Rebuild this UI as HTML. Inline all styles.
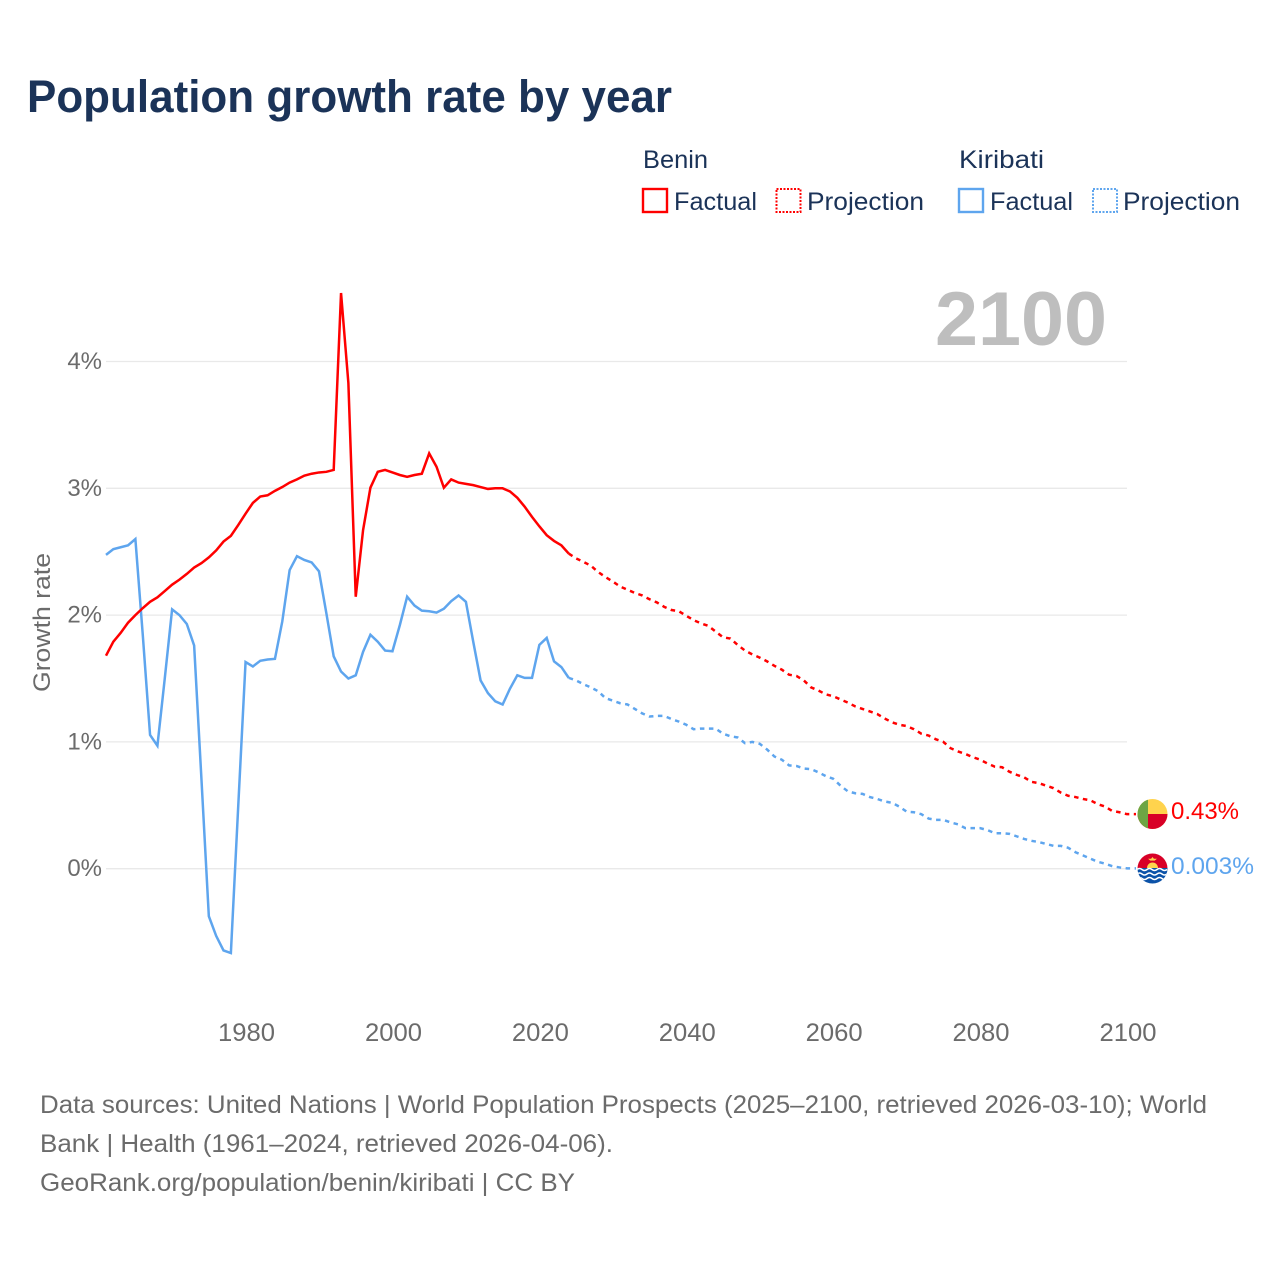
<!DOCTYPE html>
<html lang="en">
<head>
<meta charset="utf-8">
<title>Population growth rate by year</title>
<style>
html,body{margin:0;padding:0;background:#fff;}
svg{display:block;font-family:"Liberation Sans",sans-serif;}
</style>
</head>
<body>
<svg id="chart" xmlns="http://www.w3.org/2000/svg" width="1280" height="1280" viewBox="0 0 1280 1280">
  <defs>
    <clipPath id="flag-clip-a"><circle cx="1152.5" cy="814" r="15"/></clipPath>
    <clipPath id="flag-clip-b"><circle cx="1152.5" cy="868.5" r="15"/></clipPath>
  </defs>
  <rect width="1280" height="1280" fill="#fff"/>
  <text x="27" y="112" font-size="45" font-weight="700" fill="#1b3358" textLength="645" lengthAdjust="spacingAndGlyphs">Population growth rate by year</text>

  <g font-size="25" fill="#1b3358">
    <text x="643" y="168" textLength="65" lengthAdjust="spacingAndGlyphs">Benin</text>
    <text x="959" y="168" textLength="85" lengthAdjust="spacingAndGlyphs">Kiribati</text>
    <g>
      <rect x="643" y="189" width="24" height="23" fill="none" stroke="#ff0000" stroke-width="2.4"/>
      <text x="674" y="210" textLength="83" lengthAdjust="spacingAndGlyphs">Factual</text>
    </g>
    <g>
      <rect x="776.5" y="189" width="24" height="23" fill="none" stroke="#ff0000" stroke-width="2" stroke-dasharray="2 1.5"/>
      <text x="807" y="210" textLength="117" lengthAdjust="spacingAndGlyphs">Projection</text>
    </g>
    <g>
      <rect x="959" y="189" width="24" height="23" fill="none" stroke="#5ea5ee" stroke-width="2.4"/>
      <text x="990" y="210" textLength="83" lengthAdjust="spacingAndGlyphs">Factual</text>
    </g>
    <g>
      <rect x="1093" y="189" width="24" height="23" fill="none" stroke="#5ea5ee" stroke-width="2" stroke-dasharray="2 1.5"/>
      <text x="1123" y="210" textLength="117" lengthAdjust="spacingAndGlyphs">Projection</text>
    </g>
  </g>

  <text x="935" y="345" font-size="76" font-weight="700" fill="#bebebe" textLength="172" lengthAdjust="spacingAndGlyphs">2100</text>

  <g id="grid"></g>
  <g id="y-ticks" font-size="24" fill="#6b6b6b" text-anchor="end"></g>
  <g id="x-ticks" font-size="25" fill="#6b6b6b" text-anchor="middle"></g>
  <text transform="translate(50,692) rotate(-90)" font-size="24" fill="#6b6b6b" textLength="139" lengthAdjust="spacingAndGlyphs">Growth rate</text>

  <g id="series"></g>

  <g clip-path="url(#flag-clip-a)">
    <rect x="1137" y="799" width="31" height="31" fill="#ffd34d"/>
    <rect x="1137" y="814" width="31" height="16" fill="#d80027"/>
    <rect x="1137" y="799" width="11" height="31" fill="#6da544"/>
  </g>
  <g clip-path="url(#flag-clip-b)">
    <rect x="1137" y="853" width="31" height="16" fill="#d80027"/>
    <path d="M1147 868 a5.5 5.5 0 0 1 11 0 z" fill="#ffd34d"/>
    <path d="M1152.5 857 l1.4 1.8 h3 l-2.2 1.8 h-4.4 l-2.2 -1.8 h3 z" fill="#ffd34d"/>
    <rect x="1137" y="868" width="31" height="16" fill="#0b52a8"/>
    <path d="M1137 869.5 q2.5 -2 5 0 t5 0 t5 0 t5 0 t5 0 t5 0" fill="none" stroke="#fff" stroke-width="1.5"/>
    <path d="M1137 874 q2.5 -2 5 0 t5 0 t5 0 t5 0 t5 0 t5 0" fill="none" stroke="#fff" stroke-width="1.5"/>
    <path d="M1137 878.5 q2.5 -2 5 0 t5 0 t5 0 t5 0 t5 0 t5 0" fill="none" stroke="#fff" stroke-width="1.5"/>
  </g>

  <text x="1171" y="819" font-size="24" fill="#ff0000" textLength="68" lengthAdjust="spacingAndGlyphs">0.43%</text>
  <text x="1171" y="874" font-size="24" fill="#5ea5ee" textLength="83" lengthAdjust="spacingAndGlyphs">0.003%</text>

  <g font-size="25" fill="#6b6b6b">
    <text x="40" y="1113" textLength="1167" lengthAdjust="spacingAndGlyphs">Data sources: United Nations | World Population Prospects (2025–2100, retrieved 2026-03-10); World</text>
    <text x="40" y="1152" textLength="573" lengthAdjust="spacingAndGlyphs">Bank | Health (1961–2024, retrieved 2026-04-06).</text>
    <text x="40" y="1191" textLength="535" lengthAdjust="spacingAndGlyphs">GeoRank.org/population/benin/kiribati | CC BY</text>
  </g>
</svg>

<script>
var firstYear = 1961;
var lastFactualYear = 2024;
var yTickValues = [0, 1, 2, 3, 4];
var yTickLabels = ["0%", "1%", "2%", "3%", "4%"];
var xTickValues = [1980, 2000, 2020, 2040, 2060, 2080, 2100];

// Growth rate (%) per year, 1961-2024
var beninFactual = [1.68,1.79,1.86,1.94,2.00,2.055,2.105,2.14,2.19,2.24,2.28,2.325,2.375,2.41,2.455,2.51,2.58,2.625,2.71,2.80,2.885,2.935,2.945,2.98,3.01,3.045,3.07,3.10,3.115,3.125,3.13,3.145,4.54,3.83,2.145,2.67,3.005,3.13,3.145,3.125,3.105,3.09,3.105,3.115,3.275,3.17,3.005,3.07,3.045,3.035,3.025,3.01,2.995,3.0,3.0,2.975,2.925,2.855,2.775,2.70,2.63,2.585,2.55,2.485];
// Growth rate (%) per year, 2025-2100
var beninProjection = [2.447,2.42,2.39,2.34,2.30,2.265,2.225,2.20,2.175,2.155,2.125,2.10,2.065,2.04,2.03,1.995,1.96,1.935,1.915,1.87,1.825,1.815,1.765,1.72,1.69,1.665,1.635,1.60,1.57,1.53,1.52,1.485,1.43,1.405,1.375,1.36,1.335,1.31,1.28,1.26,1.24,1.22,1.185,1.155,1.135,1.125,1.10,1.065,1.05,1.02,1.00,0.95,0.925,0.905,0.88,0.86,0.83,0.805,0.80,0.765,0.74,0.72,0.685,0.675,0.655,0.635,0.60,0.575,0.565,0.55,0.54,0.51,0.49,0.455,0.445,0.43];
var kiribatiFactual = [2.475,2.52,2.535,2.55,2.60,1.85,1.055,0.97,1.50,2.045,2.00,1.93,1.76,0.70,-0.375,-0.53,-0.645,-0.665,0.49,1.63,1.595,1.64,1.65,1.655,1.95,2.355,2.465,2.435,2.415,2.345,2.015,1.675,1.555,1.50,1.525,1.71,1.845,1.79,1.72,1.715,1.92,2.145,2.075,2.035,2.03,2.02,2.05,2.11,2.155,2.105,1.79,1.485,1.385,1.32,1.295,1.42,1.525,1.505,1.505,1.765,1.82,1.635,1.59,1.505];
var kiribatiProjection = [1.485,1.455,1.43,1.40,1.345,1.325,1.305,1.295,1.26,1.225,1.20,1.205,1.205,1.18,1.16,1.135,1.10,1.105,1.105,1.105,1.065,1.045,1.035,0.99,1.00,0.985,0.94,0.885,0.86,0.815,0.81,0.79,0.785,0.76,0.73,0.71,0.655,0.61,0.595,0.59,0.565,0.55,0.53,0.52,0.49,0.45,0.445,0.43,0.395,0.385,0.385,0.365,0.35,0.32,0.32,0.32,0.305,0.28,0.28,0.275,0.255,0.235,0.22,0.21,0.195,0.18,0.18,0.165,0.13,0.105,0.08,0.055,0.04,0.02,0.01,0.003];

var NS = "http://www.w3.org/2000/svg";
function xScale(year) { return 106 + (year - 1961) * 7.345; }
function yScale(value) { return 868.7 - value * 126.8; }

function linePath(values, startYear, prefix, extendToX) {
  var d = prefix || "";
  values.forEach(function (v, i) {
    d += (d ? "L" : "M") + xScale(startYear + i).toFixed(2) + " " + yScale(v).toFixed(2);
  });
  if (extendToX) d += "L" + extendToX + " " + yScale(values[values.length - 1]).toFixed(2);
  return d;
}

var gridGroup = document.getElementById("grid");
var yTickGroup = document.getElementById("y-ticks");
yTickValues.forEach(function (v, i) {
  var ln = document.createElementNS(NS, "line");
  
  
  ln.setAttribute("x1", 106);
  ln.setAttribute("x2", 1127);
  ln.setAttribute("y1", yScale(v));
  ln.setAttribute("y2", yScale(v));
  ln.setAttribute("stroke", "#e9e9e9");
  ln.setAttribute("stroke-width", "1.3");
  gridGroup.appendChild(ln);

  var t = document.createElementNS(NS, "text");
  
  
  t.setAttribute("x", 102);
  t.setAttribute("y", yScale(v) + 7.5);
  t.textContent = yTickLabels[i];
  yTickGroup.appendChild(t);
});

var xTickGroup = document.getElementById("x-ticks");
xTickValues.forEach(function (yr) {
  var t = document.createElementNS(NS, "text");
  
  
  t.setAttribute("x", xScale(yr) + 1);
  t.setAttribute("y", 1041);
  t.setAttribute("textLength", 57);
  t.setAttribute("lengthAdjust", "spacingAndGlyphs");
  t.textContent = String(yr);
  xTickGroup.appendChild(t);
});

var seriesGroup = document.getElementById("series");

var pBF = document.createElementNS(NS, "path");


pBF.setAttribute("d", linePath(beninFactual, firstYear));
pBF.setAttribute("fill", "none");
pBF.setAttribute("stroke", "#ff0000");
pBF.setAttribute("stroke-width", "2.5");
seriesGroup.appendChild(pBF);

var pKF = document.createElementNS(NS, "path");


pKF.setAttribute("d", linePath(kiribatiFactual, firstYear));
pKF.setAttribute("fill", "none");
pKF.setAttribute("stroke", "#5ea5ee");
pKF.setAttribute("stroke-width", "2.5");
seriesGroup.insertBefore(pKF, pBF);

var pBP = document.createElementNS(NS, "path");


pBP.setAttribute("d", linePath([beninFactual[beninFactual.length - 1]].concat(beninProjection), lastFactualYear, "", 1136));
pBP.setAttribute("fill", "none");
pBP.setAttribute("stroke", "#ff0000");
pBP.setAttribute("stroke-width", "2.5");
pBP.setAttribute("stroke-dasharray", "4.5 4.5");
seriesGroup.appendChild(pBP);

var pKP = document.createElementNS(NS, "path");


pKP.setAttribute("d", linePath([kiribatiFactual[kiribatiFactual.length - 1]].concat(kiribatiProjection), lastFactualYear, "", 1136));
pKP.setAttribute("fill", "none");
pKP.setAttribute("stroke", "#5ea5ee");
pKP.setAttribute("stroke-width", "2.5");
pKP.setAttribute("stroke-dasharray", "4.5 4.5");
seriesGroup.appendChild(pKP);
</script>
</body>
</html>
